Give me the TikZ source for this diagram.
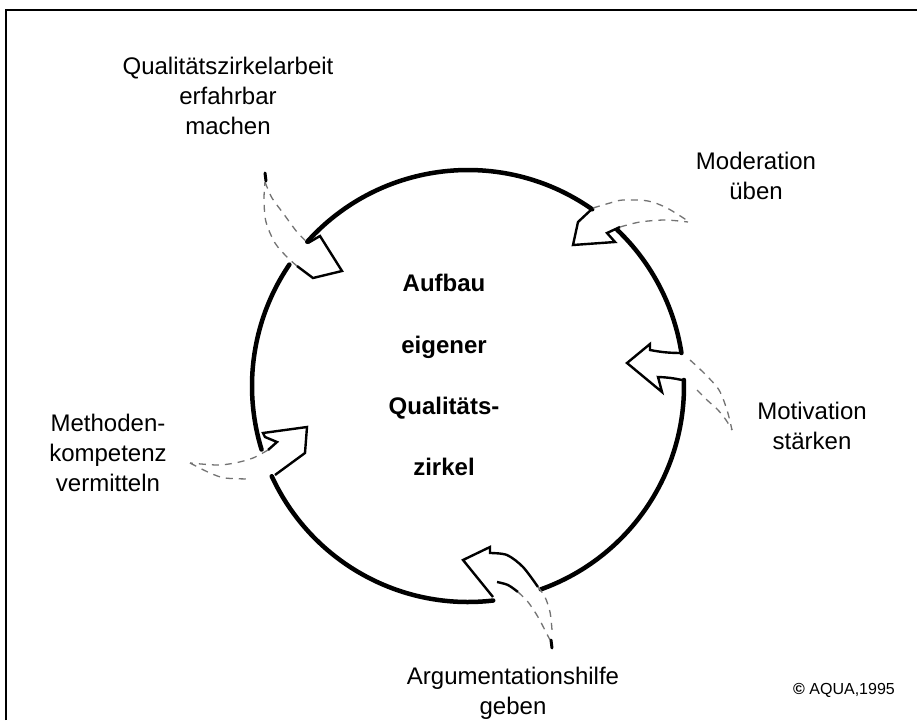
\documentclass[tikz,border=0pt]{standalone}
\usepackage{fontspec}
\setmainfont{Liberation Sans}
\begin{document}
\begin{tikzpicture}[x=1pt,y=-1pt,
  lbl/.style={font=\fontsize{24}{30}\selectfont, align=center, anchor=base, inner sep=0pt},
  ctr/.style={font=\fontsize{24}{30}\selectfont\bfseries, anchor=base, inner sep=0pt},
  ring/.style={line width=4.5pt, line cap=round},
  head/.style={line width=2.4pt, line join=miter, miter limit=20},
  tail/.style={line width=1.3pt, black!55, dash pattern=on 7pt off 6pt},
  tipmark/.style={line width=3pt, line cap=round}
]
\useasboundingbox (0,0) rectangle (917,720);
\fill[white] (0,0) rectangle (917,720);
\draw[line width=2pt] (6,720) -- (6,10) -- (917,10);
% ring
\coordinate (c) at (468,386);
\draw[ring] (c) ++(-1.6:216) arc[start angle=-1.6, end angle=70.3, radius=216];
\draw[ring] (c) ++(83.3:216) arc[start angle=83.3, end angle=155.3, radius=216];
\draw[ring] (c) ++(162.9:216) arc[start angle=162.9, end angle=214.2, radius=216];
\draw[ring] (c) ++(221.9:216) arc[start angle=221.9, end angle=305.1, radius=216];
\draw[ring] (c) ++(313.7:216) arc[start angle=313.7, end angle=351.2, radius=216];
% arrow 1 (upper left)
\draw[tail] plot[smooth] coordinates {(265,182) (272,198) (283,213) (297,232) (308,243)};
\draw[tail] plot[smooth] coordinates {(297,266) (287,257) (275,243) (266,222) (264,200) (265,182)};
\draw[head] (308,243) -- (320,236) -- (342,271) -- (313,278) -- (297,266);
\draw[tipmark] (265,173) -- (266,181);
% arrow 2 (upper right)
\draw[head] (593,208) -- (578,222) -- (573,245) -- (615,242) -- (607,233) -- (620,227);
\draw[tail] plot[smooth] coordinates {(593,208) (610,203) (623,200) (648,201) (667,208) (688,221)};
\draw[tail] plot[smooth] coordinates {(620,227) (640,222) (665,220) (688,222)};
% arrow 3 (right)
\draw[head] (680,353) to[bend left=5] (650,350) -- (650,344) -- (627,363) -- (662,392) -- (658,377) to[bend left=5] (682,380);
\draw[tail] plot[smooth] coordinates {(690,360) (705,374) (719,390) (727,410) (732,430)};
\draw[tail] plot[smooth] coordinates {(697,390) (707,400) (718,410) (726,420) (732,430)};
% arrow 4 (left)
\draw[head] (268,450) -- (277,442) -- (265,437) -- (263,433) -- (307,427) -- (305,453) -- (275,475);
\draw[tail] plot[smooth] coordinates {(268,450) (253,458) (235,463) (217,465) (190,463)};
\draw[tail] plot[smooth] coordinates {(190,463) (210,473) (225,478) (250,479)};
% arrow 5 (bottom)
\draw[head] plot[smooth] coordinates {(538,587) (523,567) (507,555) (490,553)} -- (490,547) -- (463,560) -- (493,597);
\draw[head] plot[smooth] coordinates {(497,582) (508,585) (518,592)};
\draw[tail] plot[smooth] coordinates {(538,587) (545,597) (550,612) (552,630)};
\draw[tail] plot[smooth] coordinates {(518,592) (528,602) (538,617) (550,640)};
\draw[tipmark] (551,640) -- (552,648);
% labels (base = baseline of the last line)
\node[lbl] (t1) at (228,134) {Qualitätszirkelarbeit\\erfahrbar\\machen};
\node[lbl] (t2) at (756,199) {Moderation\\üben};
\node[lbl] (t3) at (812,449) {Motivation\\stärken};
\node[lbl] (t4) at (108,491) {Methoden-\\kompetenz\\vermitteln};
\node[lbl] (t5) at (513,714) {Argumentationshilfe\\geben};
\node[inner sep=0pt, anchor=base, font=\fontsize{16}{18}\selectfont] (cp) at (844,694) {\textbf{©} AQUA,1995};
\node[ctr] (m1) at (444,291) {Aufbau};
\node[ctr] (m2) at (444,353) {eigener};
\node[ctr] (m3) at (444,414) {Qualitäts-};
\node[ctr] (m4) at (444,475) {zirkel};
\end{tikzpicture}
\end{document}
